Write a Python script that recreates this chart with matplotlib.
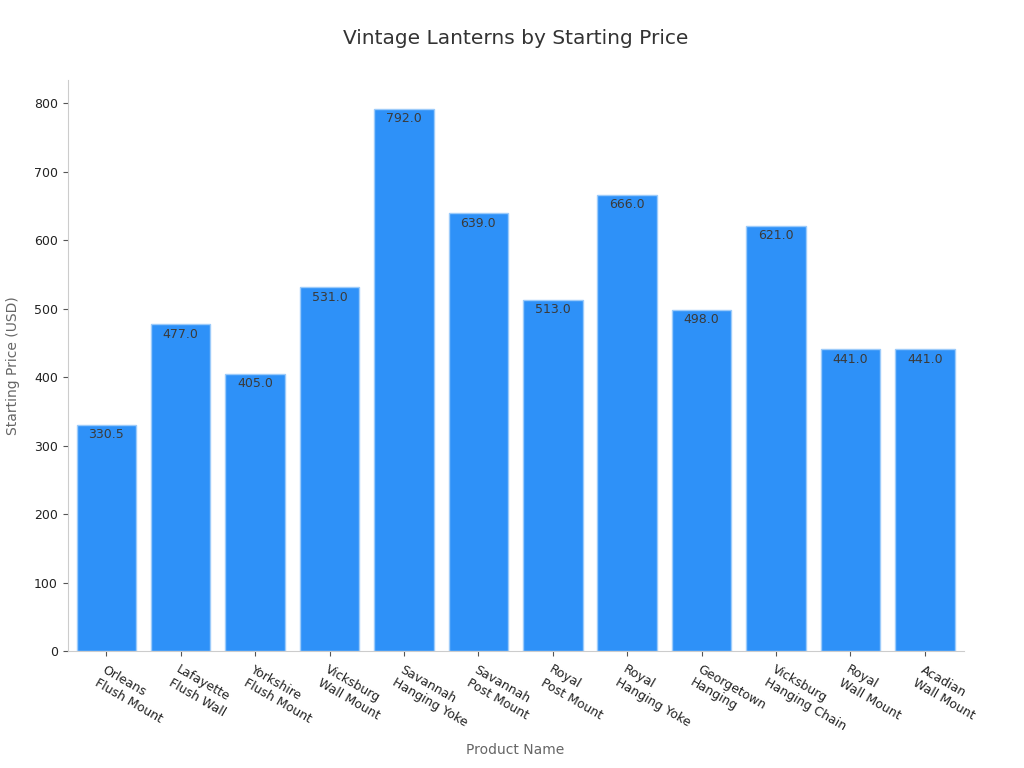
import numpy as np
import matplotlib.pyplot as plt

products = ["Orleans\nFlush Mount", "Lafayette\nFlush Wall", "Yorkshire\nFlush Mount",
            "Vicksburg\nWall Mount", "Savannah\nHanging Yoke", "Savannah\nPost Mount",
            "Royal\nPost Mount", "Royal\nHanging Yoke", "Georgetown\nHanging",
            "Vicksburg\nHanging Chain", "Royal\nWall Mount", "Acadian\nWall Mount"]
prices = [330.5, 477.0, 405.0, 531.0, 792.0, 639.0, 513.0, 666.0, 498.0, 621.0, 441.0, 441.0]

fig, ax = plt.subplots(figsize=(10.24, 7.68), dpi=100)
fig.subplots_adjust(left=0.066, right=0.941, top=0.896, bottom=0.152)

x = np.arange(len(products))
bars = ax.bar(x, prices, width=0.8, color="#2e91f8", edgecolor="#9ccbfa", linewidth=1)

for b, v in zip(bars, prices):
    ax.text(b.get_x() + b.get_width() / 2, v - 5, f"{v:.1f}", ha="center", va="top",
            fontsize=9, color="#3a3a3a")

ax.set_xlim(-0.52, 11.52)
ax.set_ylim(0, 834)
ax.set_yticks(range(0, 801, 100))
ax.set_xticks(x)
ax.set_xticklabels(products, rotation=-30, ha="left", rotation_mode="anchor",
                   fontsize=9, color="#222222")
ax.tick_params(axis="y", labelsize=9, labelcolor="#222222", color="#555555")
ax.tick_params(axis="x", color="#555555", pad=5)

for s in ["top", "right"]:
    ax.spines[s].set_visible(False)
for s in ["left", "bottom"]:
    ax.spines[s].set_color("#cccccc")

ax.set_title("Vintage Lanterns by Starting Price", fontsize=14.5, color="#333333", pad=26)
ax.set_xlabel("Product Name", fontsize=10, color="#666666", labelpad=7)
ax.set_ylabel("Starting Price (USD)", fontsize=10, color="#666666", labelpad=10)

plt.savefig("out.png", dpi=100)
